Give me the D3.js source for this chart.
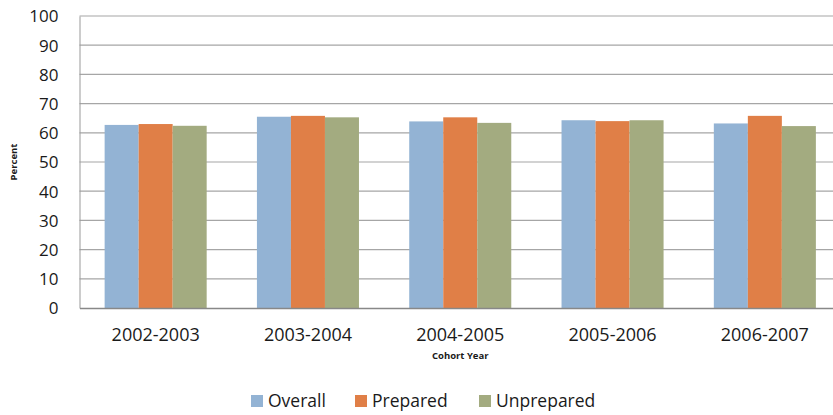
<!DOCTYPE html>
<html>
<head>
<meta charset="utf-8">
<script src="https://cdn.jsdelivr.net/npm/d3@7"></script>
<style>
  body { margin: 0; background: #fff; }
  text { font-family: "Open Sans", "DejaVu Sans", sans-serif; fill: #1a1a1a; }
</style>
</head>
<body>
<div id="chart"></div>
<script>
// data
const cohorts = ["2002-2003", "2003-2004", "2004-2005", "2005-2006", "2006-2007"];
const seriesNames = ["Overall", "Prepared", "Unprepared"];
const overall = [62.7, 65.5, 63.9, 64.3, 63.2];
const prepared = [63.0, 65.8, 65.3, 64.0, 65.8];
const unprepared = [62.4, 65.3, 63.4, 64.3, 62.3];
const yTicks = [0, 10, 20, 30, 40, 50, 60, 70, 80, 90, 100];
const colors = ["#93b3d4", "#e07f47", "#a3ab80"];

const W = 833, H = 415;
const margin = {top: 16, right: -8, bottom: 107, left: 79.5};
const width = W - margin.left - margin.right,
    height = H - margin.top - margin.bottom;

const svg = d3.select("#chart")
    .append("svg")
    .attr("width", W)
    .attr("height", H);

const g = svg.append("g")
    .attr("transform", `translate(${margin.left},${margin.top})`);

const x = d3.scaleBand()
    .domain(cohorts)
    .range([0, width])
    .paddingInner(0.33)
    .paddingOuter(0.165);

const xs = d3.scaleBand()
    .domain(seriesNames)
    .range([0, x.bandwidth()]);

const y = d3.scaleLinear()
    .domain([0, 100])
    .range([height, 0]);

// gridlines
g.append("g")
    .selectAll("line")
    .data(yTicks.filter(d => d > 0))
    .join("line")
    .attr("x1", 0)
    .attr("x2", width)
    .attr("y1", d => y(d))
    .attr("y2", d => y(d))
    .attr("stroke", "#a6a6a6")
    .attr("stroke-width", 1.2);

// left axis
const yAxis = g.append("g")
    .call(d3.axisLeft(y).tickValues(yTicks).tickSize(0).tickPadding(21));
yAxis.select(".domain").attr("stroke", "#999");
yAxis.selectAll("text")
    .style("font-size", "17px")
    .attr("dy", "0.35em");

// bars
const data = [overall, prepared, unprepared];
const groups = g.append("g")
    .selectAll("g")
    .data(cohorts)
    .join("g")
    .attr("transform", d => `translate(${x(d)},0)`);

groups.selectAll("rect")
    .data((c, i) => seriesNames.map((s, j) => ({s: s, v: data[j][i], j: j})))
    .join("rect")
    .attr("x", d => xs(d.s))
    .attr("width", xs.bandwidth())
    .attr("y", d => y(d.v))
    .attr("height", d => height - y(d.v))
    .attr("fill", d => colors[d.j]);

// bottom axis
const xAxis = g.append("g")
    .attr("transform", `translate(0,${height})`)
    .call(d3.axisBottom(x).tickSize(0).tickPadding(20));
xAxis.select(".domain").attr("stroke", "#888").attr("stroke-width", 1.3);
xAxis.selectAll("text")
    .style("font-size", "18px");

// axis titles
svg.append("text")
    .attr("transform", `translate(17,${margin.top + height / 2}) rotate(-90)`)
    .attr("text-anchor", "middle")
    .style("font-size", "9.5px")
    .style("font-weight", "bold")
    .text("Percent");

svg.append("text")
    .attr("x", margin.left + width / 2)
    .attr("y", 359)
    .attr("text-anchor", "middle")
    .style("font-size", "9.5px")
    .style("font-weight", "bold")
    .text("Cohort Year");

// legend
const legendX = [251, 355, 479];
const legend = svg.append("g")
    .selectAll("g")
    .data(seriesNames)
    .join("g")
    .attr("transform", (d, i) => `translate(${legendX[i]},395)`);

legend.append("rect")
    .attr("width", 12)
    .attr("height", 12)
    .attr("fill", (d, i) => colors[i]);

legend.append("text")
    .attr("x", 17)
    .attr("y", 6)
    .attr("dy", "0.36em")
    .style("font-size", "17.5px")
    .text(d => d);
</script>
</body>
</html>
